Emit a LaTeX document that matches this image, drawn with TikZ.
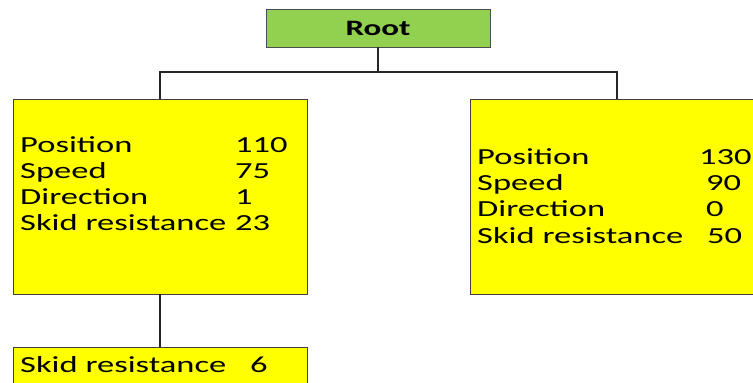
\documentclass[tikz,border=0pt]{standalone}
\usepackage{fontspec}
\setmainfont{Carlito}[FakeStretch=1.5]
\usetikzlibrary{positioning}

\definecolor{recordyellow}{RGB}{255,255,0}
\definecolor{rootgreen}{RGB}{146,208,80}

\tikzset{
  every record/.style={draw=black!75, line width=0.8pt, fill=recordyellow, inner sep=0pt,
    minimum width=294pt, minimum height=195pt},
  root box/.style={draw=black!70, line width=0.8pt, fill=rootgreen,
    inner sep=0pt, minimum width=224pt, minimum height=38pt,
    font=\fontsize{22}{24}\selectfont\bfseries},
  field/.style={anchor=base west, inner sep=0pt, font=\fontsize{23}{26}\selectfont},
  link/.style={line width=1.2pt, black!85}
}

\begin{document}
\begin{tikzpicture}[x=1pt, y=-1pt]
\clip (0,0) rectangle (753,383);

\node [root box] (root) at (378,28) {Root};
\coordinate (split) at (378,72);

\node [every record] (car-1) at (160,196.5) {};
\node [every record] (car-2) at (617,196.5) {};
\node [every record, minimum height=60pt] (car-3) at (160,377) {};

\draw [link] (root) -- (split);
\draw [link] (split) -| (car-1.north);
\draw [link] (split) -| (car-2.north);
\draw [link] (car-1) -- (car-3);

% left record
\foreach \k [count=\i] in {Position, Speed, Direction, Skid resistance}
  \node [field] (car-1-key-\i) at (20, 126+\i*26) {\k};

\foreach \v [count=\i] in {110, 75, 1, 23}
  \node [field] (car-1-val-\i) at (235, 126+\i*26) {\v};

% right record
\foreach \k [count=\i] in {Position, Speed, Direction, Skid resistance}
  \node [field] (car-2-key-\i) at (477, 138+\i*26.3) {\k};

\foreach \v/\x [count=\i] in {130/699, 90/706, 0/706, 50/707}
  \node [field] (car-2-val-\i) at (\x, 138+\i*26.3) {\v};

% child record
\node [field] (car-3-key-1) at (20,372) {Skid resistance};
\node [field] (car-3-val-1) at (250,372) {6};
\end{tikzpicture}
\end{document}
